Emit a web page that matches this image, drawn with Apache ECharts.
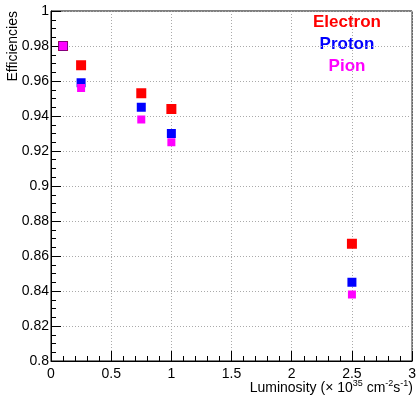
<!DOCTYPE html>
<html>
<head>
<meta charset="utf-8">
<script src="https://cdn.jsdelivr.net/npm/echarts@6/dist/echarts.min.js"></script>
<style>
  html, body { margin: 0; padding: 0; background: #fff; }
  #chart { width: 419px; height: 396px; }
</style>
</head>
<body>
<div id="chart"></div>
<script>
// luminosity points (x 10^35 cm^-2 s^-1)
const luminosity = [0.1, 0.25, 0.75, 1.0, 2.5];
const electronEff = [0.980, 0.969, 0.953, 0.944, 0.867];
const protonEff = [0.980, 0.959, 0.945, 0.930, 0.845];
const pionEff = [0.980, 0.956, 0.938, 0.925, 0.838];

const FONT = '"Liberation Sans", Arial, Helvetica, sans-serif';

const chart = echarts.init(document.getElementById('chart'));

const pairs = (ys) => luminosity.map((x, i) => [x, ys[i]]);
const fmt = (v) => String(Number(v.toFixed(3)));

const axisCommon = {
  axisLine: { lineStyle: { color: '#000', width: 1 } },
  axisTick: { inside: true, length: 10, lineStyle: { color: '#000' } },
  minorTick: { show: true, length: 5, lineStyle: { color: '#000' } },
  splitLine: { show: true, lineStyle: { color: '#aaa', type: [1, 2], width: 1 } },
  minorSplitLine: { show: false },
};

const option = {
  animation: false,
  backgroundColor: '#fff',
  grid: {
    left: 51, top: 11, right: 5, bottom: 35,
    show: true, borderColor: '#000', borderWidth: 1,
  },
  xAxis: {
    type: 'value',
    min: 0, max: 3, interval: 0.5,
    ...axisCommon,
    minorTick: { ...axisCommon.minorTick, splitNumber: 5 },
    axisLabel: { color: '#000', fontSize: 14, fontFamily: FONT, margin: 6, formatter: fmt },
  },
  yAxis: {
    type: 'value',
    min: 0.8, max: 1, interval: 0.02,
    ...axisCommon,
    minorTick: { ...axisCommon.minorTick, splitNumber: 4 },
    axisLabel: { color: '#000', fontSize: 14, fontFamily: FONT, margin: 2, formatter: fmt },
  },
  series: [
    { name: 'Electron', type: 'scatter', symbol: 'rect', symbolSize: 10,
      itemStyle: { color: '#ff0000', opacity: 1 }, data: pairs(electronEff) },
    { name: 'Proton', type: 'scatter', symbol: 'rect', symbolSize: 9,
      itemStyle: { color: '#0000ff', opacity: 1 }, data: pairs(protonEff) },
    { name: 'Pion', type: 'scatter', symbol: 'rect', symbolSize: 8,
      itemStyle: { color: '#ff00ff', opacity: 1 }, data: pairs(pionEff) },
  ],
  graphic: [
    { type: 'text', x: 347, y: 22, style: { text: 'Electron', fill: '#ff0000', font: 'bold 17px ' + FONT, align: 'center', verticalAlign: 'middle' } },
    { type: 'text', x: 347, y: 44, style: { text: 'Proton', fill: '#0000ff', font: 'bold 17px ' + FONT, align: 'center', verticalAlign: 'middle' } },
    { type: 'text', x: 347, y: 66, style: { text: 'Pion', fill: '#ff00ff', font: 'bold 17px ' + FONT, align: 'center', verticalAlign: 'middle' } },
    { type: 'text', x: 13, y: 11, rotation: Math.PI / 2,
      style: { text: 'Efficiencies', fill: '#000', font: '14px ' + FONT, align: 'right', verticalAlign: 'middle' } },
    { type: 'text', x: 413, y: 388,
      style: {
        text: '{n|Luminosity (× 10}{s|35}{n| cm}{s|-2}{n|s}{s|-1}{n|)}',
        align: 'right', verticalAlign: 'middle',
        rich: {
          n: { fontSize: 14, fontFamily: FONT, fill: '#000', color: '#000', height: 16 },
          s: { fontSize: 9, fontFamily: FONT, fill: '#000', color: '#000', verticalAlign: 'top', padding: [0, 0, 8, 0] },
        },
      } },
  ],
};

chart.setOption(option);
window.addEventListener('resize', () => chart.resize());
</script>
</body>
</html>
